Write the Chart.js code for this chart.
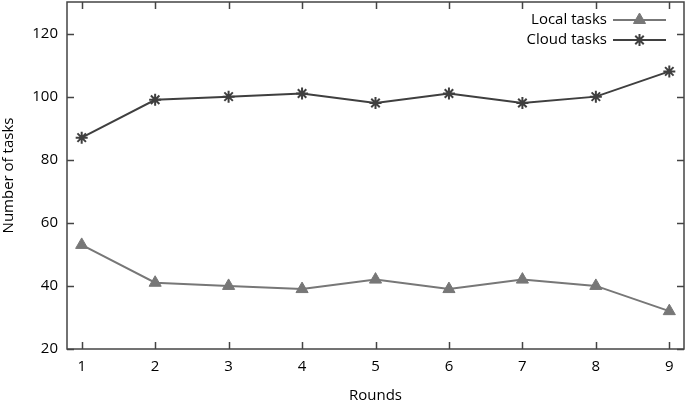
<!DOCTYPE html>
<html>
<head>
<meta charset="utf-8">
<script src="https://cdn.jsdelivr.net/npm/chart.js@4/dist/chart.umd.min.js"></script>
<style>
  html, body { margin: 0; padding: 0; background: #fff; overflow: hidden; }
  #wrap { width: 685px; height: 405px; }
</style>
</head>
<body>
<div id="wrap"><canvas id="c"></canvas></div>
<script>
// data
const rounds = [1, 2, 3, 4, 5, 6, 7, 8, 9];
const localTasks = [53, 41, 40, 39, 42, 39, 42, 40, 32];
const cloudTasks = [87, 99, 100, 101, 98, 101, 98, 100, 108];
const yTicks = [20, 40, 60, 80, 100, 120];

const FONT = { family: "'Open Sans', 'Noto Sans', sans-serif", size: 15 };
const TEXT_COL = "#000000";
const AXIS_COL = "#444444";
const LOCAL_COL = "#777777";
const CLOUD_COL = "#3f3f3f";

/* frame + inward ticks on all four sides, gnuplot style */
const frameTicks = {
    id: "frameTicks",
    afterDraw(chart) {
        const { ctx, chartArea: a, scales } = chart;
        const len = 7;
        ctx.save();
        ctx.strokeStyle = AXIS_COL;
        ctx.lineWidth = 1.5;
        ctx.strokeRect(a.left, a.top, a.right - a.left, a.bottom - a.top);
        ctx.beginPath();
        rounds.forEach(v => {
            const x = Math.round(scales.x.getPixelForValue(v)) + 0.5;
            ctx.moveTo(x, a.bottom); ctx.lineTo(x, a.bottom - len);
            ctx.moveTo(x, a.top); ctx.lineTo(x, a.top + len);
        });
        yTicks.forEach(v => {
            const y = Math.round(scales.y.getPixelForValue(v)) + 0.5;
            ctx.moveTo(a.left, y); ctx.lineTo(a.left + len, y);
            ctx.moveTo(a.right, y); ctx.lineTo(a.right - len, y);
        });
        ctx.stroke();
        ctx.restore();
    }
};

/* key in the top right corner, text then line sample */
const keyBox = {
    id: "keyBox",
    afterDatasetsDraw(chart) {
        const { ctx, chartArea: a } = chart;
        const xr = a.right - 18, x0 = xr - 53, tx = x0 - 6;
        ctx.save();
        ctx.font = `${FONT.size}px ${FONT.family}`;
        ctx.textAlign = "right";
        ctx.textBaseline = "middle";
        chart.data.datasets.forEach((ds, i) => {
            const y = a.top + 18 + i * 20;
            ctx.fillStyle = TEXT_COL;
            ctx.fillText(ds.label, tx, y);
            ctx.strokeStyle = ds.borderColor;
            ctx.lineWidth = ds.borderWidth;
            ctx.beginPath();
            ctx.moveTo(x0, y); ctx.lineTo(xr, y);
            ctx.stroke();
            ctx.fillStyle = ds.pointBackgroundColor;
            ctx.lineWidth = ds.pointBorderWidth;
            Chart.helpers.drawPoint(ctx, {
                pointStyle: ds.pointStyle, radius: ds.pointRadius, borderWidth: ds.pointBorderWidth
            }, (x0 + xr) / 2, y);
        });
        ctx.restore();
    }
};

new Chart(document.getElementById("c"), {
    type: "line",
    data: {
        datasets: [
            {
                label: "Local tasks",
                data: rounds.map((r, i) => ({ x: r, y: localTasks[i] })),
                borderColor: LOCAL_COL,
                backgroundColor: LOCAL_COL,
                pointBackgroundColor: LOCAL_COL,
                pointBorderColor: LOCAL_COL,
                borderWidth: 2,
                pointStyle: "triangle",
                pointRadius: 7,
                pointBorderWidth: 1,
                tension: 0
            },
            {
                label: "Cloud tasks",
                data: rounds.map((r, i) => ({ x: r, y: cloudTasks[i] })),
                borderColor: CLOUD_COL,
                backgroundColor: CLOUD_COL,
                pointBackgroundColor: CLOUD_COL,
                pointBorderColor: CLOUD_COL,
                borderWidth: 2,
                pointStyle: "star",
                pointRadius: 6,
                pointBorderWidth: 2,
                tension: 0
            }
        ]
    },
    options: {
        responsive: true,
        maintainAspectRatio: false,
        animation: false,
        layout: { autoPadding: false, padding: { top: 2, right: 1, left: 0, bottom: 0 } },
        plugins: { legend: { display: false }, tooltip: { enabled: false } },
        scales: {
            x: {
                type: "linear",
                min: 0.8,
                max: 9.2,
                afterBuildTicks: s => { s.ticks = rounds.map(v => ({ value: v })); },
                afterFit: s => { s.height = 56; s.paddingLeft = 0; s.paddingRight = 0; },
                grid: { display: false, drawTicks: false },
                border: { display: false },
                ticks: { color: TEXT_COL, font: FONT, padding: 9 },
                title: { display: true, text: "Rounds", color: TEXT_COL, font: FONT, padding: { top: 0, bottom: 0 } }
            },
            y: {
                min: 20,
                max: 130,
                afterBuildTicks: s => { s.ticks = yTicks.map(v => ({ value: v })); },
                afterFit: s => { s.width = 67; s.paddingTop = 0; s.paddingBottom = 0; },
                grid: { display: false, drawTicks: false },
                border: { display: false },
                ticks: { color: TEXT_COL, font: FONT, padding: 9 },
                title: { display: true, text: "Number of tasks", color: TEXT_COL, font: FONT, padding: { top: 0, bottom: 0 } }
            }
        }
    },
    plugins: [frameTicks, keyBox]
});
</script>
</body>
</html>
